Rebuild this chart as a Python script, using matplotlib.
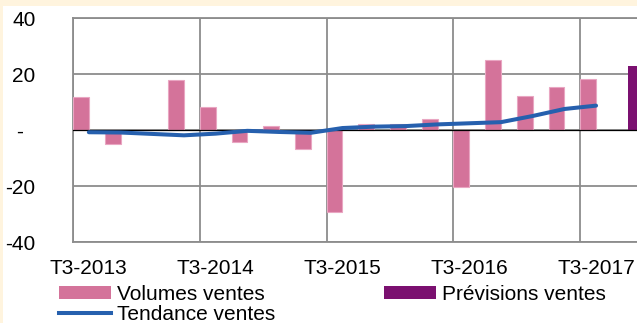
import matplotlib
matplotlib.use("Agg")
import matplotlib.pyplot as plt
import numpy as np
from matplotlib.patches import Patch, Rectangle
from matplotlib.lines import Line2D

plt.rcParams['font.family'] = ['Liberation Sans', 'DejaVu Sans']

# Quarterly data, T3-2013 .. T4-2017 (18 quarters)
quarters = ['T3-2013', 'T4-2013', 'T1-2014', 'T2-2014',
            'T3-2014', 'T4-2014', 'T1-2015', 'T2-2015',
            'T3-2015', 'T4-2015', 'T1-2016', 'T2-2016',
            'T3-2016', 'T4-2016', 'T1-2017', 'T2-2017',
            'T3-2017', 'T4-2017']
volumes = [11.7, -4.9, 0.0, 17.7, 8.3, -4.2, 1.5, -6.7, -29.4,
           2.1, 2.0, 4.0, -20.2, 25.1, 12.0, 15.4, 18.1, np.nan]
tendance = [-0.8, -0.9, -1.4, -1.9, -1.3, -0.3, -0.7, -1.0, 0.7,
            1.2, 1.4, 2.0, 2.4, 2.8, 5.0, 7.5, 8.7, np.nan]
previsions = [np.nan] * 17 + [23.0]
label_every = 4
y_ticks = [-40, -20, 0, 20, 40]
y_labels = ['-40', '-20', '-  ', '20', '40']

PINK = '#D4739A'
PINK_EDGE = '#E9A6C2'
PURPLE = '#7B1070'
BLUE = '#2660AE'
GRID = '#8C8C8C'
CREAM = '#FFF4DE'

W, H = 637, 323
fig = plt.figure(figsize=(W / 100, H / 100), dpi=100)
fig.patch.set_facecolor('white')

# outer cream frame (top and left edges visible)
fig.add_artist(Rectangle((0, 1 - 6 / H), 1, 6 / H, transform=fig.transFigure,
                         facecolor=CREAM, edgecolor='none', zorder=0))
fig.add_artist(Rectangle((0, 0), 2.5 / W, 1, transform=fig.transFigure,
                         facecolor=CREAM, edgecolor='none', zorder=0))

left, top, bottom = 73, 18, 242
n = len(quarters)
cat_w = 31.7
ax = fig.add_axes([left / W, 1 - bottom / H, n * cat_w / W, (bottom - top) / H])

x = np.arange(n)
ax.bar(x - 0.25, volumes, width=0.5, color=PINK, edgecolor=PINK_EDGE,
       linewidth=0.8, zorder=3)
ax.bar(x + 0.25, previsions, width=0.5, color=PURPLE, edgecolor='none', zorder=3)
ax.plot(x, tendance, color=BLUE, lw=2.9, solid_capstyle='round',
        solid_joinstyle='round', zorder=5)
ax.axhline(0, color='black', lw=0.9, zorder=4)

ax.set_xlim(-0.5, n - 0.5)
ax.set_ylim(-40, 40)

ax.set_yticks(y_ticks)
ax.set_yticklabels(y_labels)
ax.set_xticks(x[::label_every])
ax.set_xticklabels(quarters[::label_every])
ax.set_xticks(np.arange(-0.5, n, label_every), minor=True)
ax.tick_params(axis='both', which='both', length=0, labelsize=15,
               colors='black')
ax.tick_params(axis='y', pad=27)
ax.tick_params(axis='x', pad=12)

ax.grid(axis='y', which='major', color=GRID, lw=1.3, zorder=1)
ax.grid(axis='x', which='minor', color=GRID, lw=1.3, zorder=1)
ax.grid(axis='x', which='major', visible=False)
for side in ['left', 'top', 'bottom']:
    ax.spines[side].set_color(GRID)
    ax.spines[side].set_linewidth(1.3)
ax.spines['right'].set_visible(False)

handles = [Patch(facecolor=PINK, edgecolor='none', label='Volumes ventes'),
           Line2D([], [], color=BLUE, lw=2.9, label='Tendance ventes'),
           Patch(facecolor=PURPLE, edgecolor='none', label='Prévisions ventes')]
fig.legend(handles=handles, ncol=2, loc='upper left',
           bbox_to_anchor=(59 / W, 1 - 285 / H), frameon=False, fontsize=15,
           handlelength=2.5, handleheight=0.55, handletextpad=0.3,
           labelspacing=0.05, columnspacing=5.2, borderpad=0,
           borderaxespad=0)

fig.savefig('out.png', dpi=100)
